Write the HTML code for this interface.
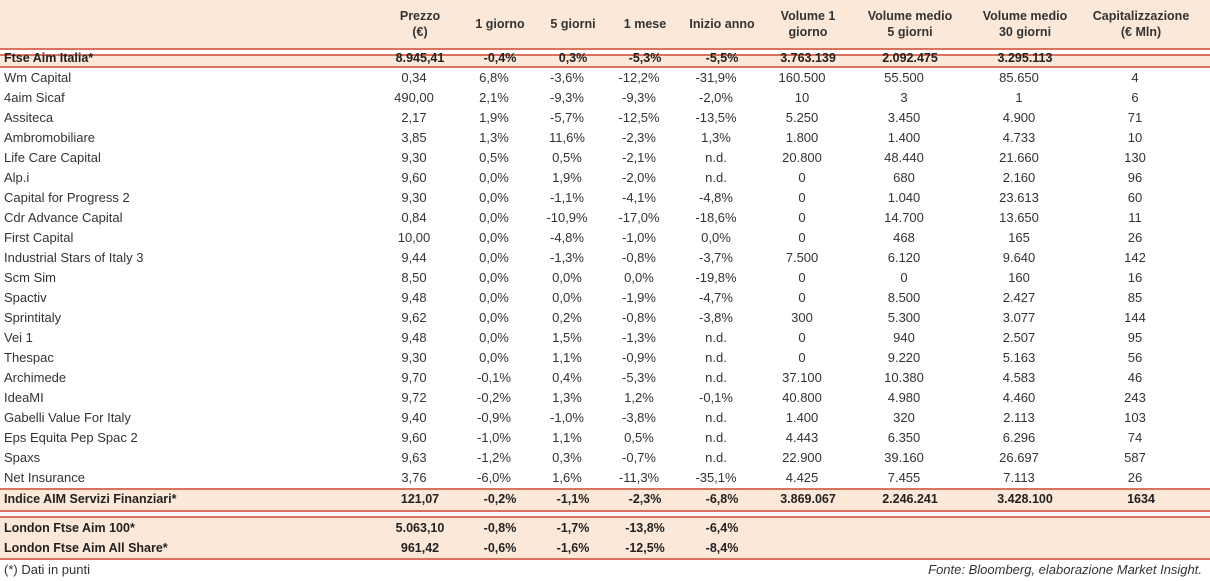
<!DOCTYPE html>
<html><head><meta charset="utf-8"><style>
body{margin:0;width:1210px;height:581px;background:#fff;overflow:hidden;font-family:"Liberation Sans","DejaVu Sans",sans-serif;color:#333;position:relative}
.band{position:absolute;left:0;width:1210px;background:#fce8d9}
.ln{position:absolute;left:0;width:1210px;height:2px;background:#d9735e}
.t{position:absolute;white-space:nowrap;font-size:13px;line-height:16px;transform:translate(-50%,-50%)}
.l{transform:translate(0,-50%)}
.b{font-weight:bold;color:#222;font-size:12.5px}
.h{font-weight:bold;color:#333;font-size:12.5px;text-align:center;line-height:16px}
</style></head><body>
<div class="band" style="top:0;height:49px"></div>
<div class="band" style="top:56px;height:12px"></div>
<div class="band" style="top:56px;height:12px"></div>
<div class="band" style="top:489px;height:22px"></div>
<div class="band" style="top:517px;height:42px"></div>
<div id="root"></div>
<script>
const colX=[420,500,573,645,722,808,910,1025,1141];
const headers=["Prezzo\n(€)","1 giorno","5 giorni","1 mese","Inizio anno","Volume 1\ngiorno","Volume medio\n5 giorni","Volume medio\n30 giorni","Capitalizzazione\n(€ Mln)"];
const topRow=["Ftse Aim Italia*","8.945,41","-0,4%","0,3%","-5,3%","-5,5%","3.763.139","2.092.475","3.295.113",""];
const rows=[
["Wm Capital","0,34","6,8%","-3,6%","-12,2%","-31,9%","160.500","55.500","85.650","4"],
["4aim Sicaf","490,00","2,1%","-9,3%","-9,3%","-2,0%","10","3","1","6"],
["Assiteca","2,17","1,9%","-5,7%","-12,5%","-13,5%","5.250","3.450","4.900","71"],
["Ambromobiliare","3,85","1,3%","11,6%","-2,3%","1,3%","1.800","1.400","4.733","10"],
["Life Care Capital","9,30","0,5%","0,5%","-2,1%","n.d.","20.800","48.440","21.660","130"],
["Alp.i","9,60","0,0%","1,9%","-2,0%","n.d.","0","680","2.160","96"],
["Capital for Progress 2","9,30","0,0%","-1,1%","-4,1%","-4,8%","0","1.040","23.613","60"],
["Cdr Advance Capital","0,84","0,0%","-10,9%","-17,0%","-18,6%","0","14.700","13.650","11"],
["First Capital","10,00","0,0%","-4,8%","-1,0%","0,0%","0","468","165","26"],
["Industrial Stars of Italy 3","9,44","0,0%","-1,3%","-0,8%","-3,7%","7.500","6.120","9.640","142"],
["Scm Sim","8,50","0,0%","0,0%","0,0%","-19,8%","0","0","160","16"],
["Spactiv","9,48","0,0%","0,0%","-1,9%","-4,7%","0","8.500","2.427","85"],
["Sprintitaly","9,62","0,0%","0,2%","-0,8%","-3,8%","300","5.300","3.077","144"],
["Vei 1","9,48","0,0%","1,5%","-1,3%","n.d.","0","940","2.507","95"],
["Thespac","9,30","0,0%","1,1%","-0,9%","n.d.","0","9.220","5.163","56"],
["Archimede","9,70","-0,1%","0,4%","-5,3%","n.d.","37.100","10.380","4.583","46"],
["IdeaMI","9,72","-0,2%","1,3%","1,2%","-0,1%","40.800","4.980","4.460","243"],
["Gabelli Value For Italy","9,40","-0,9%","-1,0%","-3,8%","n.d.","1.400","320","2.113","103"],
["Eps Equita Pep Spac 2","9,60","-1,0%","1,1%","0,5%","n.d.","4.443","6.350","6.296","74"],
["Spaxs","9,63","-1,2%","0,3%","-0,7%","n.d.","22.900","39.160","26.697","587"],
["Net Insurance","3,76","-6,0%","1,6%","-11,3%","-35,1%","4.425","7.455","7.113","26"]];
const indiceRow=["Indice AIM Servizi Finanziari*","121,07","-0,2%","-1,1%","-2,3%","-6,8%","3.869.067","2.246.241","3.428.100","1634"];
const londonRows=[["London Ftse Aim 100*","5.063,10","-0,8%","-1,7%","-13,8%","-6,4%","","","",""],
["London Ftse Aim All Share*","961,42","-0,6%","-1,6%","-12,5%","-8,4%","","","",""]];
const root=document.getElementById('root');
function txt(s,x,y,cls,name){const d=document.createElement('div');d.className='t '+cls;d.style.left=x+'px';d.style.top=y+'px';d.innerHTML=s.replace(/\n/g,'<br>');


root.appendChild(d);}
function line(y,name){const d=document.createElement('div');d.className='ln';d.style.top=y+'px';


root.appendChild(d);}
headers.forEach((h,i)=>txt(h,colX[i],24,'h','header-'+i));
line(48,'header-line-1');line(54,'header-line-2');line(66,'ftse-line');
line(488,'indice-line-top');line(510,'indice-line-bottom');line(516,'london-line-top');line(558,'london-line-bottom');
function drawRow(r,y,bold,name){txt(r[0],4,y,'l'+(bold?' b':''),name+'-label');
for(let i=1;i<r.length;i++){if(r[i]!=='')txt(r[i],colX[i-1]-(bold?0:6),y,bold?'b':'',name+'-c'+i);}}
drawRow(topRow,58,true,'row-ftse');
rows.forEach((r,k)=>drawRow(r,78+k*20,false,'row-'+k));
drawRow(indiceRow,499,true,'row-indice');
londonRows.forEach((r,k)=>drawRow(r,528+k*20,true,'row-london-'+k));
txt('(*) Dati in punti',4,570,'l','footnote');
</script>
<div style="position:absolute;right:8px;top:562px;font-size:13px;font-style:italic;color:#333">Fonte: Bloomberg, elaborazione Market Insight.</div>
</body></html>
